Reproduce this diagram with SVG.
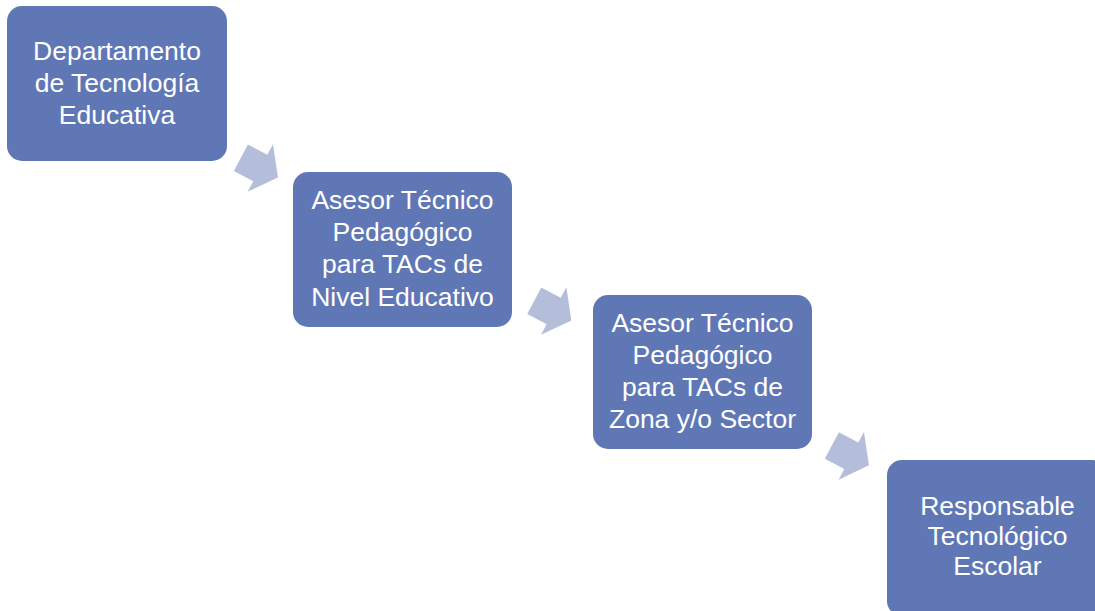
<svg xmlns="http://www.w3.org/2000/svg" width="1095" height="611" viewBox="0 0 1095 611">
  <style>
    .box { fill: #6077b5; }
    .arrow { fill: #b4bedb; }
    .lbl { font-family: "Liberation Sans", Arial, sans-serif; font-size: 26.5px; fill: #ffffff; text-anchor: middle; }
  </style>
  <defs>
    <polygon id="arr" points="-22,-15 0,-15 0,-27 20,0 0,27 0,15 -22,15"/>
  </defs>
  <rect width="1095" height="611" fill="#ffffff"/>
  <g id="connectors">
    <use href="#arr" class="arrow" transform="translate(260.3,168) rotate(28)"/>
    <use href="#arr" class="arrow" transform="translate(553.7,311) rotate(28)"/>
    <use href="#arr" class="arrow" transform="translate(851.3,455.8) rotate(28)"/>
  </g>
  <g id="node1">
    <rect class="box" x="7" y="6" width="220" height="155" rx="15"/>
    <text class="lbl" x="117" y="60">Departamento</text>
    <text class="lbl" x="117" y="91.5">de Tecnología</text>
    <text class="lbl" x="117" y="124">Educativa</text>
  </g>
  <g id="node2">
    <rect class="box" x="293" y="172" width="219" height="155" rx="15"/>
    <text class="lbl" x="402.5" y="209">Asesor Técnico</text>
    <text class="lbl" x="402.5" y="241">Pedagógico</text>
    <text class="lbl" x="402.5" y="273">para TACs de</text>
    <text class="lbl" x="402.5" y="305.5">Nivel Educativo</text>
  </g>
  <g id="node3">
    <rect class="box" x="593" y="295" width="219" height="154" rx="15"/>
    <text class="lbl" x="702.5" y="332">Asesor Técnico</text>
    <text class="lbl" x="702.5" y="364">Pedagógico</text>
    <text class="lbl" x="702.5" y="396">para TACs de</text>
    <text class="lbl" x="702.5" y="428">Zona y/o Sector</text>
  </g>
  <g id="node4">
    <rect class="box" x="887" y="460" width="220" height="156" rx="15"/>
    <text class="lbl" x="997.5" y="515">Responsable</text>
    <text class="lbl" x="997.5" y="545">Tecnológico</text>
    <text class="lbl" x="997.5" y="574.5">Escolar</text>
  </g>
</svg>
